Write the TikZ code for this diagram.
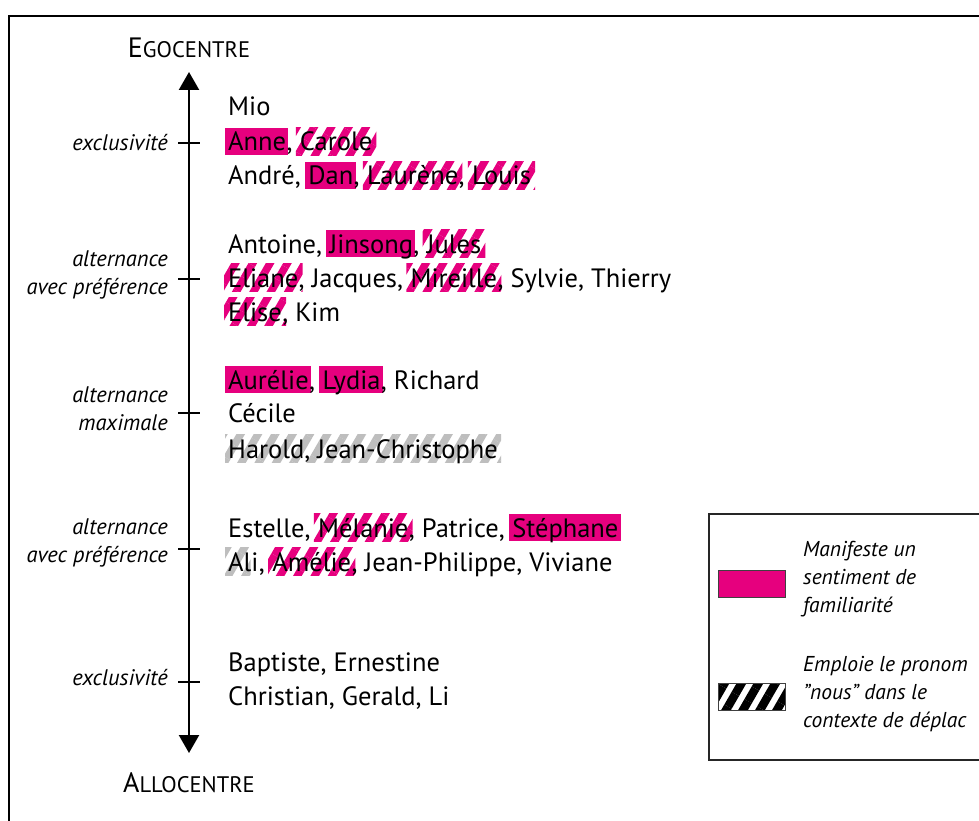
\documentclass[tikz,border=0pt]{standalone}
\usepackage{fontspec}
\setmainfont{PT Sans}
\usetikzlibrary{patterns.meta,backgrounds,arrows.meta}
\definecolor{hot}{RGB}{230,0,126}
\definecolor{greyhatch}{RGB}{190,190,190}
\newcommand\gapw{\kern\fontdimen2\font}
\tikzset{
  nm/.style={inner sep=0pt, anchor=base west, text height=23pt, text depth=4pt,
             font=\fontsize{26.5}{30}\selectfont},
  scale lbl/.style={font=\fontsize{22.5}{28}\selectfont\itshape, align=right, anchor=east, inner sep=0pt},
  legend txt/.style={font=\fontsize{21.5}{28}\selectfont\itshape, align=left, anchor=west, inner sep=0pt},
  tickmark/.style={line width=2.4pt},
  stripes/.style={pattern={Lines[angle=60,distance=15pt,line width=7.5pt]}},
  solid hl/.style={fill=hot},
  hatch hl/.style={stripes, pattern color=hot},
  grey hl/.style={stripes, pattern color=greyhatch},
  swatch/.style={minimum width=67pt, minimum height=27pt, inner sep=0pt, draw=black!75, line width=0.8pt},
}
\begin{document}
\begin{tikzpicture}[x=1pt,y=-1pt]
\useasboundingbox (0,0) rectangle (979,821);
\clip (0,0) rectangle (979,821);

% outer frame (open to the right and bottom)
\draw[line width=2.6pt] (9,840) -- (9,16) -- (1000,16);

% vertical scale
\node[inner sep=0pt] (ego) at (189,48) {\fontsize{28}{30}\selectfont E\fontsize{22.5}{24}\selectfont GOCENTRE};
\node[inner sep=0pt] (allo) at (189,783) {\fontsize{28}{30}\selectfont A\fontsize{22.5}{24}\selectfont LLOCENTRE};
\coordinate (top) at (189,72);
\coordinate (bot) at (189,753);
\draw[line width=2.4pt, {Triangle[width=20pt,length=18pt]}-{Triangle[width=20pt,length=18pt]}] (top) -- (bot);

\foreach \y/\nm in {143/t1,279/t2,413/t3,549/t4,682/t5}{
  \coordinate (\nm) at (189,\y);
  \draw[tickmark] ([xshift=-11pt]\nm) -- ([xshift=11pt]\nm);
}
\node[scale lbl] (l1) at (168,143) {exclusivité};
\node[scale lbl] (l2) at (168,275) {alternance\\avec préférence};
\node[scale lbl] (l3) at (168,409) {alternance\\maximale};
\node[scale lbl] (l4) at (168,543) {alternance\\avec préférence};
\node[scale lbl] (l5) at (168,678) {exclusivité};

% names
\node[nm] (mio) at (228,116) {Mio};

\node[nm] (anne) at (228,151) {Anne};
\node[nm] (r2a) at (anne.base east) {,\gapw};
\node[nm] (carole) at (r2a.base east) {Carole};

\node[nm] (r3a) at (228,185) {André,\gapw};
\node[nm] (dan) at (r3a.base east) {Dan};
\node[nm] (r3b) at (dan.base east) {,\gapw};
\node[nm] (laurene) at (r3b.base east) {Laurène};
\node[nm] (r3c) at (laurene.base east) {,\gapw};
\node[nm] (louis) at (r3c.base east) {Louis};

\node[nm] (r4a) at (228,253) {Antoine,\gapw};
\node[nm] (jinsong) at (r4a.base east) {Jinsong};
\node[nm] (r4b) at (jinsong.base east) {,\gapw};
\node[nm] (jules) at (r4b.base east) {Jules};

\node[nm] (eliane) at (228,287) {Eliane};
\node[nm] (r5a) at (eliane.base east) {,\gapw Jacques,\gapw};
\node[nm] (mireille) at (r5a.base east) {Mireille};
\node[nm] (r5b) at (mireille.base east) {,\gapw Sylvie,\gapw Thierry};

\node[nm] (elise) at (228,321) {Elise};
\node[nm] (r6a) at (elise.base east) {,\gapw Kim};

\node[nm] (aurelie) at (228,389) {Aurélie};
\node[nm] (r7a) at (aurelie.base east) {,\gapw};
\node[nm] (lydia) at (r7a.base east) {Lydia};
\node[nm] (r7b) at (lydia.base east) {,\gapw Richard};

\node[nm] (cecile) at (228,422) {Cécile};

\node[nm] (harold) at (228,458) {Harold,\gapw Jean-Christophe};

\node[nm] (r10a) at (228,537) {Estelle,\gapw};
\node[nm] (melanie) at (r10a.base east) {Mélanie};
\node[nm] (r10b) at (melanie.base east) {,\gapw Patrice,\gapw};
\node[nm] (stephane) at (r10b.base east) {Stéphane};

\node[nm] (ali) at (228,571) {Ali};
\node[nm] (r11a) at (ali.base east) {,\gapw};
\node[nm] (amelie) at (r11a.base east) {Amélie};
\node[nm] (r11b) at (amelie.base east) {,\gapw Jean-Philippe,\gapw Viviane};

\node[nm] (r12) at (228,671) {Baptiste,\gapw Ernestine};
\node[nm] (r13) at (228,705) {Christian,\gapw Gerald,\gapw Li};

% highlights behind the names
\begin{scope}[on background layer]
  \fill[white] (0,0) rectangle (979,821);
  \foreach \n in {anne,dan,jinsong,aurelie,lydia,stephane}
    \fill[solid hl] ([xshift=-3pt]\n.south west) rectangle ([xshift=2pt]\n.north east);
  \foreach \n in {carole,laurene,louis,jules,eliane,mireille,elise,melanie,amelie}
    \fill[hatch hl] ([xshift=-4pt]\n.south west) rectangle ([xshift=4pt]\n.north east);
  \fill[grey hl] ([xshift=-3pt]harold.south west) rectangle ([xshift=3pt]harold.north east);
  \fill[grey hl] ([xshift=-3pt]ali.south west) rectangle ([xshift=-8pt]ali.north east);
\end{scope}

% legend
\draw[line width=1.5pt, black!85] (709,514) rectangle (1000,760);
\node[swatch, fill=hot] (sw1) at (751.5,583.5) {};
\node[swatch, pattern={Lines[angle=60,distance=14.7pt,line width=8.5pt]}, pattern color=black] (sw2) at (751.5,696.5) {};
\node[legend txt] (lg1) at (803,579) {Manifeste un\\sentiment de\\familiarité};
\node[legend txt] (lg2) at (803,694) {Emploie le pronom\\\char34 nous\char34{} dans le\\contexte de déplac};
\end{tikzpicture}
\end{document}
